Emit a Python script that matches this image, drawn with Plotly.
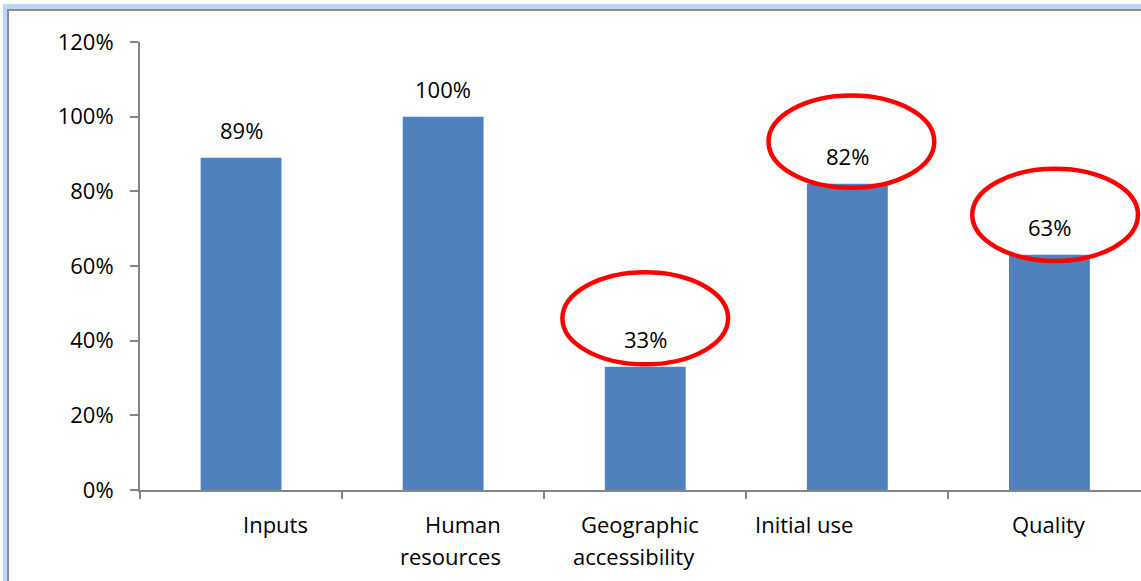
import plotly.graph_objects as go

# Share of facilities meeting each criterion (%)
categories = ["Inputs", "Human resources", "Geographic accessibility", "Initial use", "Quality"]
values = [89, 100, 33, 82, 63]

# Wrapped category labels as drawn under the axis
label_lines = [["Inputs"], ["Human", "resources"], ["Geographic", "accessibility"], ["Initial use"], ["Quality"]]

# Criteria singled out with a red ring: (category index, ring centre in %)
highlighted = [(2, 46.0), (3, 93.3), (4, 73.7)]

W, H = 1141, 581
ML, MR, MT, MB = 140, 0, 42, 91
PW, PH = W - ML - MR, H - MT - MB

FONT = "Open Sans"
FS = 22
BAR = "#4F81BD"
AXIS = "#868686"


def px_x(px):
    return (px - ML) / PW


def px_y(py):
    return 1 - (py - MT) / PH


fig = go.Figure(
    go.Bar(
        x=categories,
        y=[v / 100 for v in values],
        marker=dict(color=BAR, line=dict(width=0)),
        width=0.4,
        hoverinfo="skip",
    )
)

annotations = []
# value labels above bars
for c, v in zip(categories, values):
    annotations.append(dict(
        x=c, y=v / 100, xref="x", yref="y", text=f"{v}%", showarrow=False,
        yanchor="middle", xanchor="center", yshift=28,
        font=dict(family=FONT, size=FS, color="#000000"),
    ))

# category labels (per-line placement)
label_place = [
    [(34, "center")],
    [(60, "right"), (60, "right")],
    [(-5, "center"), (-11, "center")],
    [(-43, "center")],
    [(0, "center")],
]
line_y = [-34, -66]
for c, lines, place in zip(categories, label_lines, label_place):
    for k, (txt, (dx, anchor)) in enumerate(zip(lines, place)):
        annotations.append(dict(
            x=c, y=0, xref="x", yref="y", text=txt, showarrow=False,
            xanchor=anchor, yanchor="middle", xshift=dx, yshift=line_y[k],
            font=dict(family=FONT, size=FS, color="#000000"),
        ))

shapes = []
# red rings around highlighted values
ring_dx = {2: 0.0, 3: 0.02, 4: 0.028}
for idx, cy in highlighted:
    rx, ry = 0.41, 12.35
    cx = idx + ring_dx[idx]
    shapes.append(dict(
        type="circle", xref="x", yref="y",
        x0=cx - rx, x1=cx + rx,
        y0=(cy - ry) / 100, y1=(cy + ry) / 100,
        line=dict(color="#FF0000", width=4.5), layer="above",
    ))

# chart frame: light blue outer band with grey inner line (left and top edges)
LB = "#BBD6F8"
GR = "#8C8C8C"
frame = [
    (3, 4, 7, H + 5, LB),
    (3, 4, W + 5, 9, LB),
    (7, 9, 9, H + 5, GR),
    (7, 9, W + 5, 11, GR),
]
for x0, y0, x1, y1, col in frame:
    shapes.append(dict(
        type="rect", xref="paper", yref="paper",
        x0=px_x(x0), x1=px_x(x1), y0=px_y(y1), y1=px_y(y0),
        fillcolor=col, line=dict(width=0), layer="above",
    ))

fig.update_layout(
    width=W, height=H,
    margin=dict(l=ML, r=MR, t=MT, b=MB, pad=0),
    paper_bgcolor="white", plot_bgcolor="white",
    showlegend=False,
    font=dict(family=FONT, size=FS, color="#000000"),
    annotations=annotations,
    shapes=shapes,
    xaxis=dict(
        type="category", range=[-0.5, -0.5 + PW / 202.1],
        showline=True, linecolor=AXIS, linewidth=2,
        ticks="outside", tickson="boundaries", ticklen=7, tickwidth=2, tickcolor=AXIS,
        showticklabels=False, showgrid=False, zeroline=False, fixedrange=True,
    ),
    yaxis=dict(
        range=[0, 1.2], dtick=0.2, tick0=0, tickformat=".0%",
        showline=True, linecolor=AXIS, linewidth=2,
        ticks="outside", ticklen=8, tickwidth=2, tickcolor=AXIS,
        ticklabelstandoff=12,
        tickfont=dict(family=FONT, size=FS, color="#000000"),
        showgrid=False, zeroline=False, fixedrange=True,
    ),
)

fig.write_html("out.html")
